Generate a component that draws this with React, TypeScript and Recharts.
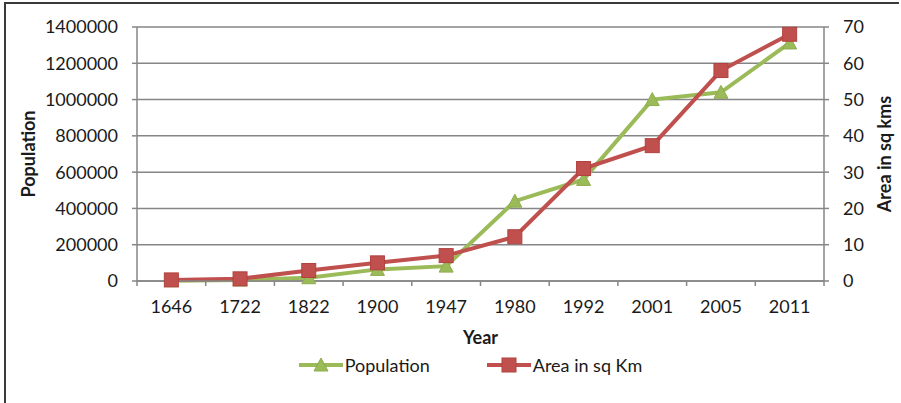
import { ComposedChart, Line, XAxis, YAxis, CartesianGrid, Legend } from 'recharts'

const years = ['1646', '1722', '1822', '1900', '1947', '1980', '1992', '2001', '2005', '2011']
const population = [2000, 5000, 18000, 64000, 82000, 440000, 560000, 1000000, 1040000, 1312000]
const area = [0.3, 0.6, 2.9, 5.0, 7.0, 12.2, 31, 37.3, 58, 68]
const populationTicks = [0, 200000, 400000, 600000, 800000, 1000000, 1200000, 1400000]
const areaTicks = [0, 10, 20, 30, 40, 50, 60, 70]

const data = years.map((year, i) => ({ year, population: population[i], area: area[i] }))

const GREEN = '#9bbb59'
const RED = '#c0504d'
const GRID = '#868686'
const FONT = 'Lato, "Noto Sans", sans-serif'

const TICK_SIZE = 5
const TICK_MARGIN = 14

// category labels, with the tick marks drawn on the band edges
function YearTick(props: any) {
  const { x, y, payload, index, visibleTicksCount } = props
  const half = payload.offset ?? 0
  const axisY = y - TICK_SIZE - TICK_MARGIN
  const last = index === visibleTicksCount - 1
  return (
    <g>
      <line x1={x - half} x2={x - half} y1={axisY} y2={axisY + TICK_SIZE} stroke={GRID} strokeWidth={1.5} />
      {last && <line x1={x + half} x2={x + half} y1={axisY} y2={axisY + TICK_SIZE} stroke={GRID} strokeWidth={1.5} />}
      <text x={x} y={y} dy="0.71em" textAnchor="middle" fontSize={18} fontFamily={FONT} fill="#1a1a1a">
        {payload.value}
      </text>
    </g>
  )
}

function Triangle(props: any) {
  const { cx, cy } = props
  if (cx == null || cy == null) return null
  return <path d={`M${cx},${cy - 7} L${cx + 7},${cy + 6} L${cx - 7},${cy + 6} Z`} fill={GREEN} stroke="#8eac4f" strokeWidth={1} />
}

function Square(props: any) {
  const { cx, cy } = props
  if (cx == null || cy == null) return null
  return <rect x={cx - 7} y={cy - 7} width={14} height={14} fill={RED} stroke="#b0423f" strokeWidth={1} />
}

function LegendContent() {
  const item = (label: string, color: string, marker: JSX.Element, gap: number) => (
    <div style={{ display: 'flex', alignItems: 'center', marginRight: gap }}>
      <svg width={44} height={20}>
        <line x1={0} x2={44} y1={10} y2={10} stroke={color} strokeWidth={4} />
        {marker}
      </svg>
      <span style={{ marginLeft: 2 }}>{label}</span>
    </div>
  )
  return (
    <div
      style={{
        display: 'flex',
        justifyContent: 'center',
        height: 20,
        fontFamily: FONT,
        fontSize: 18,
        color: '#1a1a1a',
        lineHeight: '20px',
        paddingLeft: 40,
      }}
    >
      {item('Population', GREEN, <Triangle cx={22} cy={10} />, 57)}
      {item('Area in sq Km', RED, <Square cx={22} cy={10} />, 0)}
    </div>
  )
}

export default function App() {
  return (
    <div
      style={{
        position: 'absolute',
        left: 0,
        top: 0,
        width: 901,
        height: 403,
        background: '#fff',
      }}
    >
      <div
        style={{
          position: 'absolute',
          left: 4,
          top: 2,
          right: 2,
          bottom: 0,
          borderLeft: '2px solid #3a3a3a',
          borderTop: '2px solid #3a3a3a',
        }}
      />
      <ComposedChart width={901} height={403} data={data} margin={{ top: 27, right: 0, left: 0, bottom: 28 }}>
        <CartesianGrid vertical={false} stroke={GRID} strokeWidth={1.5} yAxisId="pop" />
        <XAxis
          dataKey="year"
          scale="band"
          height={74}
          axisLine={{ stroke: GRID, strokeWidth: 1.5 }}
          tickLine={false}
          tickSize={TICK_SIZE}
          tickMargin={TICK_MARGIN}
          tick={<YearTick />}
          interval={0}
          label={{ value: 'Year', position: 'center', dy: 20, fontSize: 18, fontWeight: 'bold', fontFamily: FONT, fill: '#1a1a1a' }}
        />
        <YAxis
          yAxisId="pop"
          width={137}
          domain={[0, 1400000]}
          ticks={populationTicks}
          interval={0}
          axisLine={{ stroke: GRID, strokeWidth: 1.5 }}
          tickLine={{ stroke: GRID, strokeWidth: 1.5 }}
          tickSize={5}
          tickMargin={14}
          tick={{ fontSize: 18, fontFamily: FONT, fill: '#1a1a1a' }}
          label={{ value: 'Population', angle: -90, position: 'center', dx: -40, fontSize: 18, fontWeight: 'bold', fontFamily: FONT, fill: '#1a1a1a' }}
        />
        <YAxis
          yAxisId="area"
          orientation="right"
          width={77}
          domain={[0, 70]}
          ticks={areaTicks}
          interval={0}
          axisLine={{ stroke: GRID, strokeWidth: 1.5 }}
          tickLine={{ stroke: GRID, strokeWidth: 1.5 }}
          tickSize={5}
          tickMargin={14}
          tick={{ fontSize: 18, fontFamily: FONT, fill: '#1a1a1a' }}
          label={{ value: 'Area in sq kms', angle: -90, position: 'center', dx: 22, fontSize: 18, fontWeight: 'bold', fontFamily: FONT, fill: '#1a1a1a' }}
        />
        <Legend verticalAlign="bottom" content={<LegendContent />} />
        <Line
          yAxisId="pop"
          dataKey="population"
          name="Population"
          stroke={GREEN}
          strokeWidth={4}
          dot={<Triangle />}
          activeDot={false}
          isAnimationActive={false}
        />
        <Line
          yAxisId="area"
          dataKey="area"
          name="Area in sq Km"
          stroke={RED}
          strokeWidth={4}
          dot={<Square />}
          activeDot={false}
          isAnimationActive={false}
        />
      </ComposedChart>
    </div>
  )
}
